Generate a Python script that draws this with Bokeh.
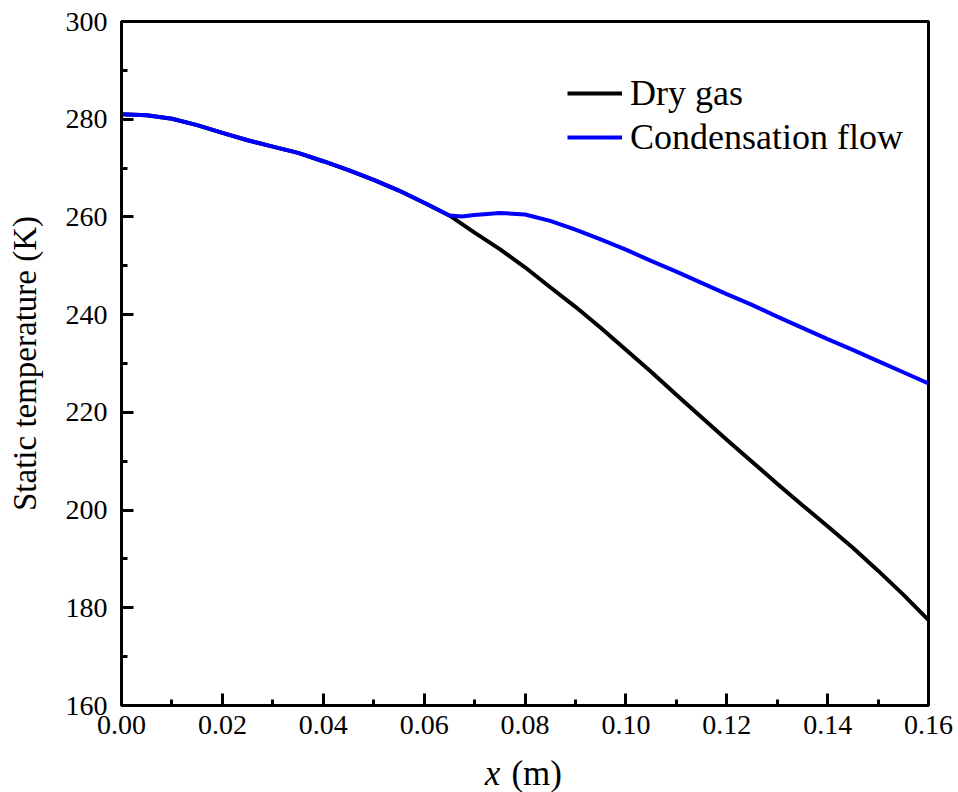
from bokeh.plotting import figure
from bokeh.models import Range1d, FixedTicker, NumeralTickFormatter, Legend, LegendItem
from bokeh.layouts import column
from bokeh.core.properties import value
from bokeh.embed import file_html
from bokeh.resources import INLINE

# ---- data ----
x_shared = [0.000, 0.005, 0.010, 0.015, 0.020, 0.025, 0.030, 0.035, 0.040,
            0.045, 0.050, 0.055, 0.060, 0.065]
t_shared = [281.0, 280.8, 280.1, 278.8, 277.2, 275.7, 274.4, 273.1, 271.4,
            269.6, 267.6, 265.4, 262.9, 260.3]

x_dry_tail = [0.070, 0.075, 0.080, 0.085, 0.090, 0.095, 0.100, 0.105, 0.110,
              0.115, 0.120, 0.125, 0.130, 0.135, 0.140, 0.145, 0.150, 0.155, 0.160]
t_dry_tail = [256.8, 253.4, 249.7, 245.6, 241.6, 237.3, 232.8, 228.3, 223.6,
              219.0, 214.4, 209.9, 205.4, 201.0, 196.7, 192.3, 187.6, 182.7, 177.5]

x_cond_tail = [0.0675, 0.070, 0.075, 0.080, 0.085, 0.090, 0.095, 0.100, 0.105,
               0.110, 0.115, 0.120, 0.125, 0.130, 0.135, 0.140, 0.145, 0.150,
               0.155, 0.160]
t_cond_tail = [260.1, 260.4, 260.8, 260.5, 259.2, 257.4, 255.4, 253.3, 251.0,
               248.8, 246.5, 244.2, 242.0, 239.6, 237.3, 235.0, 232.8, 230.5,
               228.2, 225.9]

x_dry = x_shared + x_dry_tail
t_dry = t_shared + t_dry_tail
x_cond = x_shared + x_cond_tail
t_cond = t_shared + t_cond_tail

x_major = [0.00, 0.02, 0.04, 0.06, 0.08, 0.10, 0.12, 0.14, 0.16]
x_minor = [0.01, 0.03, 0.05, 0.07, 0.09, 0.11, 0.13, 0.15]
y_major = [160, 180, 200, 220, 240, 260, 280, 300]
y_minor = [170, 190, 210, 230, 250, 270, 290]

series_names = ["Dry gas", "Condensation flow"]
series_colors = ["#000000", "#0000FF"]
x_title_var = "x"
x_title_unit = "(m)"
y_title = "Static temperature (K)"

FONT = "Liberation Serif"

p = figure(width=958, height=742, output_backend="svg", toolbar_location=None, tools="",
           x_range=Range1d(0, 0.16), y_range=Range1d(160, 300),
           min_border_left=121, min_border_right=30, min_border_top=21, min_border_bottom=37)

p.background_fill_color = "white"
p.border_fill_color = "white"
p.grid.visible = False
p.outline_line_color = "black"
p.outline_line_width = 3
p.outline_line_alpha = 1.0

r_dry = p.line(x_dry, t_dry, line_color=series_colors[0], line_width=4)
r_cond = p.line(x_cond, t_cond, line_color=series_colors[1], line_width=4)

for ax in (p.xaxis[0], p.yaxis[0]):
    ax.axis_line_width = 3
    ax.axis_line_color = "black"
    ax.major_tick_in = 12
    ax.major_tick_out = 0
    ax.minor_tick_in = 6
    ax.minor_tick_out = 0
    ax.major_tick_line_width = 3
    ax.minor_tick_line_width = 3
    ax.major_label_text_font = FONT
    ax.major_label_text_font_size = "28px"
    ax.major_label_text_color = "black"
    ax.axis_label_text_font = FONT
    ax.axis_label_text_font_style = "normal"
    ax.axis_label_text_font_size = "33px"
    ax.axis_label_text_color = "black"

p.xaxis[0].ticker = FixedTicker(ticks=x_major, minor_ticks=x_minor)
p.xaxis[0].formatter = NumeralTickFormatter(format="0.00")
p.xaxis[0].major_label_standoff = 10
p.yaxis[0].ticker = FixedTicker(ticks=y_major, minor_ticks=y_minor)
p.yaxis[0].major_label_standoff = 14
p.yaxis[0].axis_label = y_title
p.yaxis[0].axis_label_standoff = 20

legend = Legend(items=[LegendItem(label=series_names[0], renderers=[r_dry]),
                       LegendItem(label=series_names[1], renderers=[r_cond])],
                location=(446, 546), orientation="vertical")
legend.border_line_color = None
legend.background_fill_alpha = 0
legend.label_text_font = FONT
legend.label_text_font_size = "36px"
legend.label_text_color = "black"
legend.glyph_width = 55
legend.glyph_height = 44
legend.label_height = 44
legend.label_standoff = 8
legend.spacing = 0
legend.padding = 0
legend.margin = 0
p.add_layout(legend)

# x-axis title strip (italic variable + upright unit)
p2 = figure(width=958, height=50, output_backend="svg", toolbar_location=None, tools="",
            x_range=p.x_range, y_range=Range1d(0, 50),
            x_axis_location=None, y_axis_location=None,
            min_border_left=121, min_border_right=30, min_border_top=0, min_border_bottom=0)
p2.grid.visible = False
p2.outline_line_color = None
p2.background_fill_color = "white"
p2.border_fill_color = "white"
p2.text(x=[0.0751], y=[19], text=[x_title_var], text_font=value(FONT), text_font_style="italic",
        text_font_size="35px", text_color="black", text_align="right", text_baseline="alphabetic")
p2.text(x=[0.0773], y=[19], text=[x_title_unit], text_font=value(FONT), text_font_style="normal",
        text_font_size="35px", text_color="black", text_align="left", text_baseline="alphabetic")

layout = column(p, p2, spacing=0)
open("out.html", "w").write(file_html(layout, INLINE))
